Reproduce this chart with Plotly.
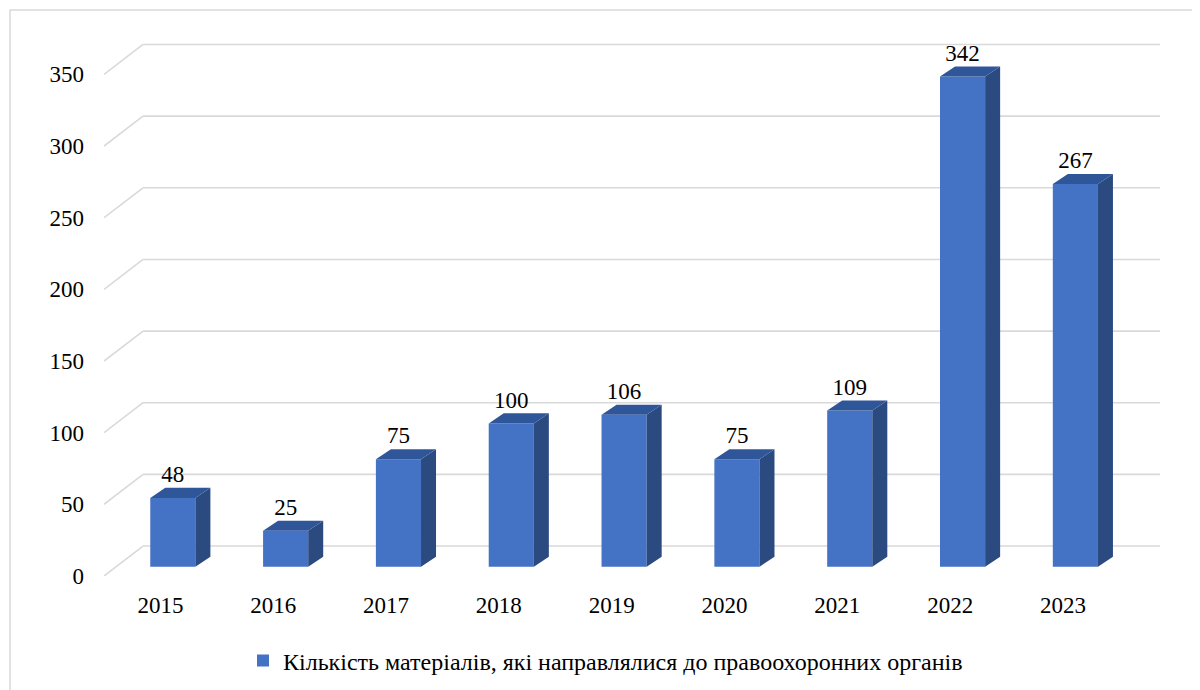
import plotly.graph_objects as go

# ---------------- data ----------------
years = ["2015", "2016", "2017", "2018", "2019", "2020", "2021", "2022", "2023"]
values = [48, 25, 75, 100, 106, 75, 109, 342, 267]
y_ticks = [0, 50, 100, 150, 200, 250, 300, 350]
series_name = "Кількість матеріалів, які направлялися до правоохоронних органів"

# ---------------- style / geometry ----------------
# the page body has an 8px default margin, so the figure is drawn 8px smaller
OFF = 8
W, H = 1200 - OFF, 690 - OFF
M_L, M_R, M_T = 104 - OFF, 40, 30 - OFF
PLOT_BOTTOM = 576 - OFF
M_B = H - PLOT_BOTTOM
X_RANGE = [-0.5, 8.86]
Y_RANGE = [0, 381]
FONT = "Liberation Serif, Times New Roman, serif"
FRONT = "#4472C4"
SIDE = "#2B4A80"
TOP = "#30569A"
GRID = "#D9D9D9"

WALL_DX, WALL_DY = 0.346, 20.9      # depth of the 3D box (category units, value units)
BAR_SHIFT, BAR_BASE = 0.11, 6.5     # bar front face offset inside the box
BAR_W = 0.4
BAR_DX, BAR_DY = 0.133, 7.0         # depth of each bar
LABEL_GAP = 8.0

n = len(years)
xs = [i + BAR_SHIFT for i in range(n)]

fig = go.Figure()

# front faces
fig.add_trace(go.Bar(
    x=xs, y=values, base=BAR_BASE, width=BAR_W, name=series_name,
    marker=dict(color=FRONT, line=dict(width=0)), showlegend=True,
))

# side faces
sx, sy = [], []
for x, v in zip(xs, values):
    r = x + BAR_W / 2
    sx += [r, r + BAR_DX, r + BAR_DX, r, r, None]
    sy += [BAR_BASE, BAR_BASE + BAR_DY, BAR_BASE + v + BAR_DY, BAR_BASE + v, BAR_BASE, None]
fig.add_trace(go.Scatter(x=sx, y=sy, mode="lines", fill="toself", fillcolor=SIDE,
                         line=dict(width=0, color=SIDE), showlegend=False, hoverinfo="skip"))

# top faces
tx, ty = [], []
for x, v in zip(xs, values):
    l, r = x - BAR_W / 2, x + BAR_W / 2
    t = BAR_BASE + v
    tx += [l, r, r + BAR_DX, l + BAR_DX, l, None]
    ty += [t, t, t + BAR_DY, t + BAR_DY, t, None]
fig.add_trace(go.Scatter(x=tx, y=ty, mode="lines", fill="toself", fillcolor=TOP,
                         line=dict(width=0, color=TOP), showlegend=False, hoverinfo="skip"))

# data labels
fig.add_trace(go.Scatter(
    x=xs, y=[BAR_BASE + v + BAR_DY + LABEL_GAP for v in values],
    text=[str(v) for v in values], mode="text", textposition="middle center",
    textfont=dict(family=FONT, size=23, color="#000000"),
    showlegend=False, hoverinfo="skip", cliponaxis=False,
))

# gridlines: side-wall diagonal + back-wall horizontal
shapes = []
for t in y_ticks:
    x0 = X_RANGE[0]
    shapes.append(dict(type="line", xref="x", yref="y", layer="below",
                       x0=x0, y0=t, x1=x0 + WALL_DX, y1=t + WALL_DY,
                       line=dict(color=GRID, width=1.6)))
    shapes.append(dict(type="line", xref="x", yref="y", layer="below",
                       x0=x0 + WALL_DX, y0=t + WALL_DY, x1=X_RANGE[1], y1=t + WALL_DY,
                       line=dict(color=GRID, width=1.6)))

# chart-area border (extends past the cropped right/bottom edges)
pw, ph = W - M_L - M_R, H - M_T - M_B
shapes.append(dict(type="rect", xref="paper", yref="paper", layer="below",
                   x0=(2 - M_L) / pw, x1=(W + 5 - M_L) / pw,
                   y0=-(H + 5 - PLOT_BOTTOM) / ph, y1=(PLOT_BOTTOM - 2) / ph,
                   line=dict(color=GRID, width=1.5), fillcolor="rgba(0,0,0,0)"))

fig.update_layout(
    width=W, height=H,
    margin=dict(l=M_L, r=M_R, t=M_T, b=M_B, pad=0),
    paper_bgcolor="white", plot_bgcolor="rgba(0,0,0,0)",
    shapes=shapes,
    hovermode=False,
    showlegend=True,
    legend=dict(orientation="h", xref="container", yref="container",
                x=(283 - OFF - 40) / W, xanchor="left", y=1 - (661 - OFF) / H, yanchor="middle",
                font=dict(family=FONT, size=24, color="#000000"),
                itemwidth=30, bgcolor="rgba(0,0,0,0)"),
    xaxis=dict(range=X_RANGE, tickmode="array", tickvals=list(range(n)), ticktext=years,
               showgrid=False, zeroline=False, showline=False, ticks="",
               ticklabelstandoff=13,
               tickfont=dict(family=FONT, size=23, color="#000000"), fixedrange=True),
    yaxis=dict(range=Y_RANGE, tickmode="array", tickvals=y_ticks,
               ticktext=[str(t) for t in y_ticks],
               showgrid=False, zeroline=False, showline=False, ticks="",
               ticklabelstandoff=19,
               tickfont=dict(family=FONT, size=23, color="#000000"), fixedrange=True),
)

fig.write_html("out.html")
